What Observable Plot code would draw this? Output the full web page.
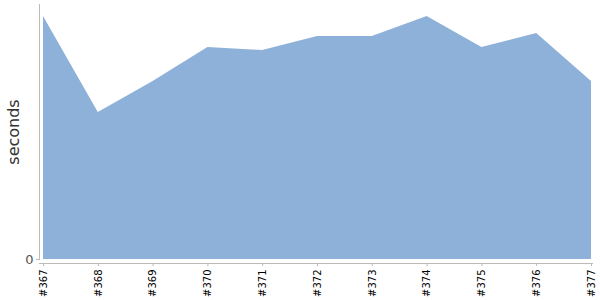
<!DOCTYPE html>
<html><head><meta charset="utf-8">
<script src="https://cdn.jsdelivr.net/npm/d3@7"></script>
<script src="https://cdn.jsdelivr.net/npm/@observablehq/plot@0.6"></script>
<style>body{margin:0;background:#fff} svg{display:block}</style>
</head><body><div id="chart"></div>
<script>
const builds = [367, 368, 369, 370, 371, 372, 373, 374, 375, 376, 377];
const seconds = [243, 147, 178, 212, 209, 223, 223, 243, 212, 226, 178];
const yTicks = [0];
const data = builds.map((b, i) => ({build: b, seconds: seconds[i]}));

const chart = Plot.plot({
  width: 600, height: 300,
  marginTop: 4, marginBottom: 41, marginLeft: 39, marginRight: 8,
  style: {fontFamily: "DejaVu Sans, sans-serif", background: "#fff"},
  x: {type: "linear", domain: [367, 377], insetLeft: 4, insetRight: 1},
  y: {domain: [0, 255]},
  marks: [
    Plot.areaY(data, {x: "build", y: "seconds", fill: "#8eb1da"}),
    Plot.frame({anchor: "left", stroke: "#bbb"}),
    Plot.frame({anchor: "bottom", stroke: "#bbb", dy: 4}),
    Plot.axisX({ticks: builds, tickFormat: d => "#" + d, tickRotate: -90, tickSize: 3, dy: 4, tickPadding: 3, stroke: "#bbb", fill: "#000", fontSize: 10, label: null}),
    Plot.axisY({ticks: yTicks, tickSize: 3, stroke: "#bbb", fill: "#555", fontSize: 13, tickPadding: 3, label: null}),
    Plot.text(["seconds"], {frameAnchor: "left", textAnchor: "middle", dx: -26, rotate: -90, fontSize: 16, fill: "#333", text: d => d})
  ]
});
document.getElementById("chart").appendChild(chart);
</script></body></html>
